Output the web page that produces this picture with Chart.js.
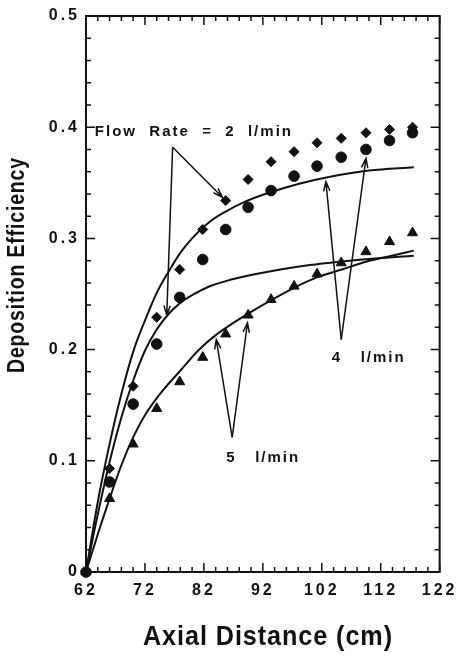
<!DOCTYPE html>
<html>
<head>
<meta charset="utf-8">
<script src="https://cdn.jsdelivr.net/npm/chart.js@4"></script>
<style>
  html, body { margin: 0; padding: 0; background: #fff; }
  #wrap { width: 462px; height: 662px; }
</style>
</head>
<body>
<div id="wrap"><canvas id="depositionChart"></canvas></div>
<script>
// measured points (axial distance in cm)
const axialDistance = [62, 66, 70, 74, 77.9, 81.8, 85.7, 89.5, 93.4, 97.3, 101.2, 105.3, 109.5, 113.5, 117.4];
const efficiency2 = [0, 0.093, 0.167, 0.229, 0.272, 0.308, 0.334, 0.353, 0.369, 0.378, 0.386, 0.390, 0.395, 0.398, 0.400];
const efficiency4 = [0, 0.081, 0.151, 0.205, 0.247, 0.281, 0.308, 0.328, 0.343, 0.356, 0.365, 0.373, 0.380, 0.388, 0.395];
const efficiency5 = [0, 0.066, 0.115, 0.147, 0.171, 0.193, 0.214, 0.231, 0.245, 0.257, 0.268, 0.278, 0.288, 0.297, 0.305];

// model curves
const curve2X = [62, 64, 66, 68, 70, 72, 74, 76, 78, 80, 83, 86, 89, 93, 98, 103, 110, 117.6];
const curve2Y = [0, 0.063, 0.115, 0.160, 0.198, 0.226, 0.251, 0.270, 0.287, 0.300, 0.315, 0.325, 0.333, 0.341, 0.349, 0.355, 0.361, 0.364];
const curve4X = [62, 64, 66, 68, 70, 72, 74, 76, 78, 80, 83, 86, 90, 95, 100, 105, 110, 117.6];
const curve4Y = [0, 0.052, 0.099, 0.139, 0.172, 0.199, 0.218, 0.232, 0.242, 0.249, 0.257, 0.262, 0.267, 0.272, 0.276, 0.279, 0.2815, 0.2845];
const curve5X = [62, 64, 66, 68, 70, 72, 75, 78, 81, 84, 87, 90, 93.6, 98.2, 101.2, 105.4, 109.5, 113.5, 117.6];
const curve5Y = [0, 0.034, 0.066, 0.096, 0.121, 0.141, 0.163, 0.181, 0.199, 0.213, 0.224, 0.234, 0.245, 0.258, 0.265, 0.272, 0.279, 0.284, 0.289];

// axes
const xTickValues = [62, 72, 82, 92, 102, 112, 122];
const xTickLabels = ['62', '72', '82', '92', '102', '112', '122'];
const yTickValues = [0, 0.1, 0.2, 0.3, 0.4, 0.5];
const yTickLabels = ['0', '0.1', '0.2', '0.3', '0.4', '0.5'];
const xMinorTicks = [64, 66, 68, 70, 74, 76, 78, 80, 84, 86, 88, 90, 94, 96, 98, 100, 104, 106, 108, 110, 114, 116, 118, 120];
const yMinorTicks = [0.02, 0.04, 0.06, 0.08, 0.12, 0.14, 0.16, 0.18, 0.22, 0.24, 0.26, 0.28, 0.32, 0.34, 0.36, 0.38, 0.42, 0.44, 0.46, 0.48];

// callouts: text position, arrow vertex, arrow tips (data units)
const callouts = [
    { text: 'Flow  Rate  =  2  l/min', at: [63.5, 0.396], from: [76.7, 0.382], tips: [[85.15, 0.337], [75.7, 0.231]] },
    { text: '4   l/min', at: [103.7, 0.193], from: [105.3, 0.209], tips: [[102.7, 0.351], [109.5, 0.372]] },
    { text: '5   l/min', at: [85.8, 0.1025], from: [86.8, 0.121], tips: [[84.1, 0.209], [89.4, 0.224]] }
];

const ink = '#111';
const toPoints = (xs, ys) => xs.map((x, i) => ({ x: x, y: ys[i] }));

function curveSet(xs, ys) {
    return {
        data: toPoints(xs, ys),
        borderColor: ink,
        borderWidth: 2,
        pointRadius: 0,
        fill: false,
        cubicInterpolationMode: 'monotone',
        clip: false
    };
}

function markerSet(ys, style, radius) {
    return {
        data: toPoints(axialDistance, ys),
        showLine: false,
        pointStyle: style,
        pointRadius: radius,
        pointBackgroundColor: ink,
        pointBorderColor: ink,
        pointBorderWidth: 1,
        clip: false
    };
}

function drawArrow(ctx, x1, y1, x2, y2) {
    const ang = Math.atan2(y2 - y1, x2 - x1);
    const len = 10, spread = 0.32;
    ctx.beginPath();
    ctx.moveTo(x1, y1);
    ctx.lineTo(x2, y2);
    ctx.moveTo(x2 - len * Math.cos(ang - spread), y2 - len * Math.sin(ang - spread));
    ctx.lineTo(x2, y2);
    ctx.lineTo(x2 - len * Math.cos(ang + spread), y2 - len * Math.sin(ang + spread));
    ctx.stroke();
}

const framePlugin = {
    id: 'frame',
    beforeDraw(chart) {
        chart.ctx.letterSpacing = '3px';
    },
    beforeDatasetsDraw(chart) {
        const { ctx, chartArea: a, scales } = chart;
        ctx.save();
        ctx.strokeStyle = ink;
        ctx.lineWidth = 2;
        ctx.strokeRect(a.left, a.top, a.right - a.left, a.bottom - a.top);
        ctx.lineWidth = 1.5;
        const tick = (vals, len) => {
            ctx.beginPath();
            vals.forEach(v => {
                const px = scales.x.getPixelForValue(v);
                ctx.moveTo(px, a.bottom); ctx.lineTo(px, a.bottom - len);
                ctx.moveTo(px, a.top); ctx.lineTo(px, a.top + len);
            });
            ctx.stroke();
        };
        const ytick = (vals, len) => {
            ctx.beginPath();
            vals.forEach(v => {
                const py = scales.y.getPixelForValue(v);
                ctx.moveTo(a.left, py); ctx.lineTo(a.left + len, py);
                ctx.moveTo(a.right, py); ctx.lineTo(a.right - len, py);
            });
            ctx.stroke();
        };
        tick(xTickValues, 9);
        tick(xMinorTicks, 5);
        ytick(yTickValues, 9);
        ytick(yMinorTicks, 5);
        ctx.restore();
    },
    afterDatasetsDraw(chart) {
        const { ctx, scales } = chart;
        const px = v => scales.x.getPixelForValue(v);
        const py = v => scales.y.getPixelForValue(v);
        ctx.save();
        ctx.strokeStyle = ink;
        ctx.fillStyle = ink;
        ctx.lineWidth = 1.5;
        callouts.forEach(c => {
            c.tips.forEach(t => drawArrow(ctx, px(c.from[0]), py(c.from[1]), px(t[0]), py(t[1])));
        });
        ctx.letterSpacing = '2px';
        ctx.font = 'bold 15px "Liberation Sans", Arial, sans-serif';
        ctx.textAlign = 'left';
        ctx.textBaseline = 'middle';
        callouts.forEach(c => ctx.fillText(c.text, px(c.at[0]), py(c.at[1])));

        // axis titles
        ctx.letterSpacing = '1px';
        ctx.font = 'bold 27px "Liberation Sans", Arial, sans-serif';
        ctx.textAlign = 'center';
        ctx.fillText('Axial Distance (cm)', 268, 638, 250);
        ctx.translate(18, 265);
        ctx.rotate(-Math.PI / 2);
        ctx.font = 'bold 23px "Liberation Sans", Arial, sans-serif';
        ctx.fillText('Deposition Efficiency', 0, 0, 216);
        ctx.restore();
    }
};

const tickFont = { family: '"Liberation Sans", Arial, sans-serif', size: 16, weight: 'bold' };

new Chart(document.getElementById('depositionChart'), {
    type: 'line',
    data: {
        datasets: [
            curveSet(curve2X, curve2Y),
            curveSet(curve4X, curve4Y),
            curveSet(curve5X, curve5Y),
            markerSet(efficiency2, 'rectRot', 5),
            markerSet(efficiency4, 'circle', 5.3),
            markerSet(efficiency5, 'triangle', 5.8)
        ]
    },
    options: {
        responsive: true,
        maintainAspectRatio: false,
        animation: false,
        devicePixelRatio: 1,
        layout: { padding: { top: 16, right: 21, left: 0, bottom: 0 } },
        plugins: { legend: { display: false }, tooltip: { enabled: false } },
        scales: {
            x: {
                type: 'linear',
                min: 62,
                max: 122,
                afterBuildTicks: s => { s.ticks = xTickValues.map(v => ({ value: v })); },
                afterFit: s => { s.height = 90; },
                ticks: {
                    color: ink,
                    font: tickFont,
                    padding: 9,
                    maxRotation: 0,
                    autoSkip: false,
                    callback: (v, i) => xTickLabels[i]
                },
                grid: { display: false, drawTicks: false },
                border: { display: false }
            },
            y: {
                type: 'linear',
                min: 0,
                max: 0.5,
                afterBuildTicks: s => { s.ticks = yTickValues.map(v => ({ value: v })); },
                afterFit: s => { s.width = 86; },
                ticks: {
                    color: ink,
                    font: tickFont,
                    padding: 6,
                    autoSkip: false,
                    callback: (v, i) => yTickLabels[i]
                },
                grid: { display: false, drawTicks: false },
                border: { display: false }
            }
        }
    },
    plugins: [framePlugin]
});
</script>
</body>
</html>
